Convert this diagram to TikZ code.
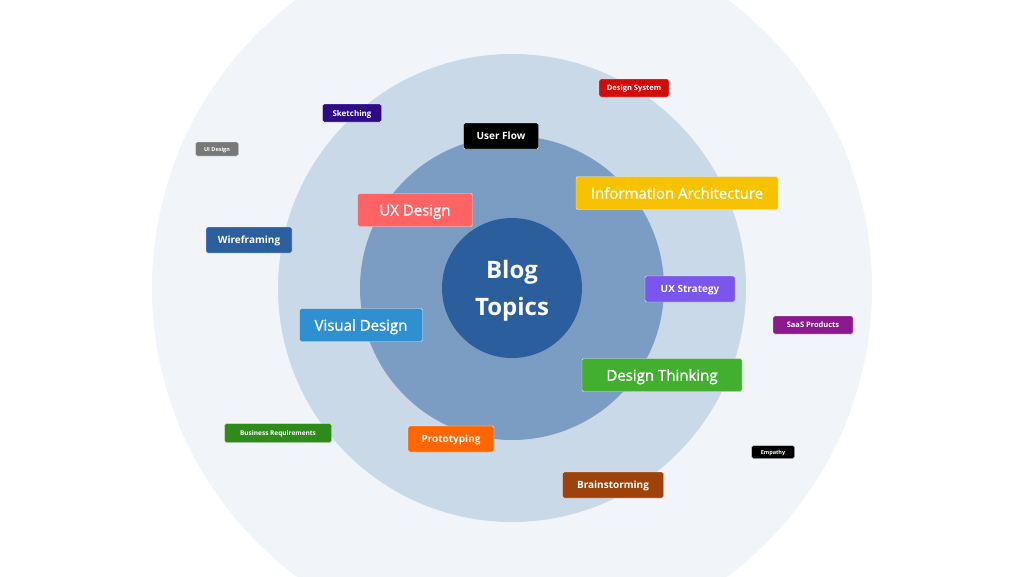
\documentclass[tikz,border=0pt]{standalone}
\usepackage{fontspec}
\setmainfont{Open Sans}
\newfontfamily\medfont[FakeBold=1.2]{Open Sans}
\usepackage{xcolor}
\definecolor{RingOut}{HTML}{F1F5F9}
\definecolor{RingMid}{HTML}{CAD9E8}
\definecolor{RingIn}{HTML}{7B9DC4}
\definecolor{Hub}{HTML}{2A5E9D}
\definecolor{cSketch}{HTML}{2E0A87}
\definecolor{cUI}{HTML}{787878}
\definecolor{cSystem}{HTML}{D10A0A}
\definecolor{cInfo}{HTML}{F7C200}
\definecolor{cUX}{HTML}{FF6363}
\definecolor{cWire}{HTML}{2B5F9E}
\definecolor{cStrat}{HTML}{7A56EC}
\definecolor{cSaaS}{HTML}{8B1A8F}
\definecolor{cVisual}{HTML}{2E90D0}
\definecolor{cThink}{HTML}{42B02E}
\definecolor{cBiz}{HTML}{2E8A1A}
\definecolor{cProto}{HTML}{FF6600}
\definecolor{cBrain}{HTML}{9C420A}

\tikzset{
  tag/.style={rectangle,rounded corners=1.5pt,text=white,inner sep=0pt,text depth=0pt,draw=black!8,line width=0.4pt},
  bigtag/.style={tag,font=\fontsize{15}{15}\selectfont\medfont,minimum height=33pt},
  midtag/.style={tag,font=\fontsize{10}{10}\selectfont\bfseries,minimum height=26pt},
  smalltag/.style={tag,font=\fontsize{7.5}{7.5}\selectfont\bfseries,minimum height=18pt},
}

\begin{document}
\begin{tikzpicture}[x=1pt,y=-1pt]
\useasboundingbox (0,0) rectangle (1024,576);
\clip (0,0) rectangle (1024,576);
\fill[white] (0,0) rectangle (1024,576);
% rings
\fill[RingOut] (512,288) circle (360);
\fill[RingMid] (512,288) circle (234);
\fill[RingIn] (512,288) circle (152);
\node[circle,fill=Hub,minimum size=140pt,inner sep=0pt,text=white,text depth=0pt,align=center,font=\fontsize{24}{37}\selectfont\bfseries] (hub) at (512,288) {Blog\\Topics};
% inner tags
\node[bigtag,fill=cInfo,minimum width=202pt] (info) at (677,193) {Information Architecture};
\node[bigtag,fill=cUX,minimum width=115pt] (uxdesign) at (415,210) {UX Design};
\node[bigtag,fill=cVisual,minimum width=123pt] (visual) at (361,325) {Visual Design};
\node[bigtag,fill=cThink,minimum width=160pt] (thinking) at (662,375) {Design Thinking};
% middle tags
\node[midtag,fill=black,minimum width=75pt] (userflow) at (501,136) {User Flow};
\node[midtag,fill=cWire,minimum width=86pt] (wire) at (249,240) {Wireframing};
\node[midtag,fill=cStrat,minimum width=90pt] (strategy) at (690,289) {UX Strategy};
\node[midtag,fill=cProto,minimum width=86pt] (proto) at (451,439) {Prototyping};
\node[midtag,fill=cBrain,minimum width=101pt] (brain) at (613,485) {Brainstorming};
% outer tags
\node[smalltag,fill=cSketch,minimum width=59pt,font=\fontsize{8}{8}\selectfont\bfseries] (sketch) at (352,113) {Sketching};
\node[smalltag,fill=cSystem,minimum width=70pt] (system) at (634,88) {Design System};
\node[smalltag,fill=cSaaS,minimum width=80pt] (saas) at (813,325) {SaaS Products};
\node[smalltag,fill=cUI,minimum width=43pt,minimum height=14pt,font=\fontsize{5.5}{5.5}\selectfont\bfseries] (uidesign) at (217,149) {UI Design};
\node[smalltag,fill=cBiz,minimum width=107pt,minimum height=19pt,font=\fontsize{6.5}{6.5}\selectfont\bfseries] (business) at (278,433) {Business Requirements};
\node[smalltag,fill=black,minimum width=43pt,minimum height=13pt,font=\fontsize{5.5}{5.5}\selectfont\bfseries] (empathy) at (773,452) {Empathy};
\end{tikzpicture}
\end{document}
